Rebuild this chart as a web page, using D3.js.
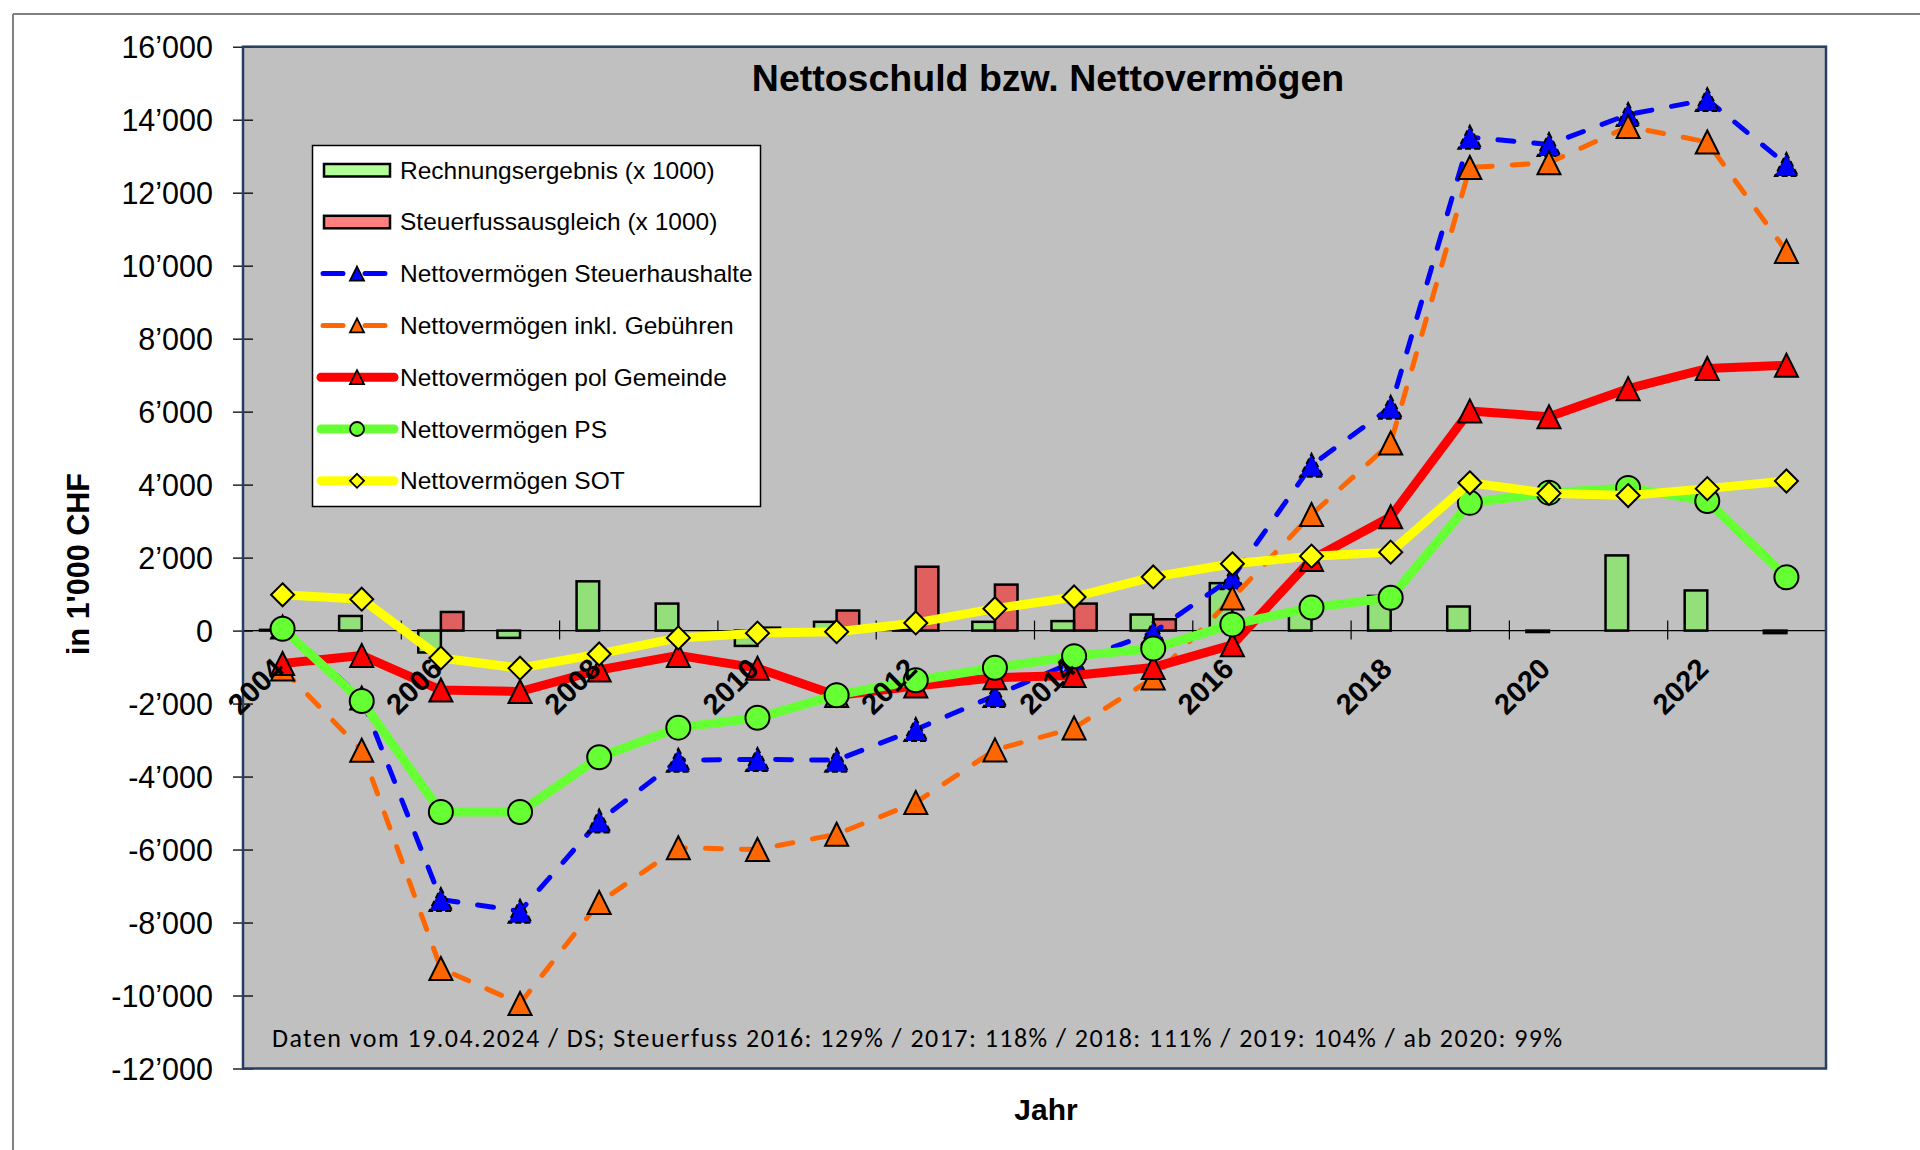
<!DOCTYPE html>
<meta charset="utf-8">
<title>Nettoschuld bzw. Nettovermögen</title>
<style>
body {
  margin: 0px;
  background: #fff;
}
text {
  font-family: "Liberation Sans", Arial, sans-serif;
  fill: #000;
}
</style>
<script src="https://d3js.org/d3.v7.min.js"></script>
<body>
<script>
// data (in 1'000 CHF)
var years = [2004, 2005, 2006, 2007, 2008, 2009, 2010, 2011, 2012, 2013,
             2014, 2015, 2016, 2017, 2018, 2019, 2020, 2021, 2022, 2023];
var rechnungsergebnis = [20, 400, -600, -200, 1350, 740, -420, 240, 20, 240,
                         260, 440, 1300, 500, 950, 660, -40, 2060, 1100, -70];
var steuerfussausgleich = [0, 0, 510, 0, 0, 0, 80, 550, 1750, 1260,
                           740, 310, 0, 0, 0, 0, 0, 0, 0, 0];
var nvSteuerhaushalte = [100, -1850, -7370, -7690, -5220, -3550, -3530, -3550, -2710, -1780,
                         -850, -50, 1450, 4530, 6120, 13520, 13320, 14140, 14550, 12770];
var nvInklGebuehren = [-1050, -3280, -9260, -10220, -7450, -5950, -6000, -5580, -4710, -3270,
                       -2670, -1300, 890, 3180, 5140, 12690, 12820, 13810, 13390, 10390];
var nvPolGemeinde = [-900, -680, -1630, -1670, -1080, -680, -1030, -1780, -1520, -1290,
                     -1230, -1010, -390, 1950, 3120, 6020, 5860, 6630, 7180, 7270];
var nvPS = [50, -1930, -4970, -4970, -3470, -2660, -2390, -1770, -1360, -1020,
            -700, -490, 170, 630, 900, 3500, 3780, 3910, 3550, 1460];
var nvSOT = [980, 860, -750, -1030, -640, -200, -70, -30, 210, 600,
             920, 1470, 1830, 2040, 2150, 4050, 3760, 3700, 3890, 4100];

var yTicks = [-12000, -10000, -8000, -6000, -4000, -2000, 0, 2000, 4000, 6000, 8000, 10000, 12000, 14000, 16000];
var xLabels = [2004, 2006, 2008, 2010, 2012, 2014, 2016, 2018, 2020, 2022];

var barKeys = ["Rechnungsergebnis (x 1000)", "Steuerfussausgleich (x 1000)"];
var lineKeys = ["Nettovermögen Steuerhaushalte", "Nettovermögen inkl. Gebühren",
                "Nettovermögen pol Gemeinde", "Nettovermögen PS", "Nettovermögen SOT"];

var footnote = "Daten vom 19.04.2024 / DS; Steuerfuss 2016: 129% / 2017: 118% / 2018: 111% / 2019: 104% / ab 2020: 99%";

// styles
var bars = [
  {name: barKeys[0], values: rechnungsergebnis, fill: "rgba(102,255,51,0.5)"},
  {name: barKeys[1], values: steuerfussausgleich, fill: "rgba(255,0,0,0.5)"}
];
var lines = [
  {name: lineKeys[0], values: nvSteuerhaushalte, color: "#0000ff", width: 5, dash: "16,20", marker: "tri", mdash: "6,3"},
  {name: lineKeys[1], values: nvInklGebuehren, color: "#ff6600", width: 5, dash: "16,20", marker: "tri"},
  {name: lineKeys[2], values: nvPolGemeinde, color: "#ff0000", width: 9, marker: "tri"},
  {name: lineKeys[3], values: nvPS, color: "#66ff33", width: 9, marker: "circle"},
  {name: lineKeys[4], values: nvSOT, color: "#ffff00", width: 9, marker: "diamond"}
];

var width = 1920, height = 1150;
// plot area box (note: "top" is reserved on window)
var pLeft = 243, pRight = 1826, pTop = 46.7, pBottom = 1068.5;

var fmt = d3.formatLocale({decimal: ".", thousands: "’", grouping: [3], currency: ["", ""], minus: "-"}).format(",");

var svg = d3.select("body").append("svg")
    .attr("width", width)
    .attr("height", height);

// chart area frame
svg.append("line")
    .attr("x1", 13).attr("y1", 14).attr("x2", width).attr("y2", 14)
    .attr("stroke", "#000").attr("stroke-width", 1.2);
svg.append("line")
    .attr("x1", 13).attr("y1", 14).attr("x2", 13).attr("y2", height)
    .attr("stroke", "#808080").attr("stroke-width", 2);

// plot area
svg.append("rect")
    .attr("x", pLeft).attr("y", pTop)
    .attr("width", pRight - pLeft).attr("height", pBottom - pTop)
    .attr("fill", "#c0c0c0");

var x = d3.scaleBand().domain(years).range([pLeft, pRight]);
var bw = x.bandwidth();
var xBar = d3.scaleBand().domain(barKeys).range([-bw * 0.2855, bw * 0.2855]);
var y = d3.scaleLinear().domain([-12000, 16000]).range([pBottom, pTop]);
var y0 = y(0);
function cx(yr) { return x(yr) + bw / 2; }

// y axis
var yAxis = svg.append("g")
    .attr("transform", "translate(" + (pLeft + 10) + ",0)")
    .call(d3.axisLeft(y).tickValues(yTicks).tickSize(20).tickPadding(20).tickFormat(fmt));
yAxis.select(".domain").remove();
yAxis.selectAll(".tick line").attr("stroke", "#000").attr("stroke-width", 1.3);
yAxis.selectAll(".tick text")
    .style("font-family", "'Liberation Sans', Arial, sans-serif")
    .style("font-size", "30.5px")
    .attr("fill", "#000")
    .attr("dy", "0.35em");

// zero line and category ticks
svg.append("line")
    .attr("x1", pLeft).attr("x2", pRight).attr("y1", y0).attr("y2", y0)
    .attr("stroke", "#000").attr("stroke-width", 1.2);
svg.selectAll("line.xtick")
    .data(xLabels.slice(1))
  .enter().append("line")
    .attr("class", "xtick")
    .attr("x1", function(d) { return x(d); })
    .attr("x2", function(d) { return x(d); })
    .attr("y1", y0 - 10).attr("y2", y0 + 9)
    .attr("stroke", "#000").attr("stroke-width", 1.2);

// bars
bars.forEach(function(b) {
  var pts = years.map(function(yr, i) { return {yr: yr, v: b.values[i]}; })
      .filter(function(d) { return d.v !== 0; });
  svg.append("g").selectAll("rect")
      .data(pts)
    .enter().append("rect")
      .attr("x", function(d) { return cx(d.yr) + xBar(b.name); })
      .attr("width", xBar.bandwidth())
      .attr("y", function(d) { return y(Math.max(0, d.v)); })
      .attr("height", function(d) { return Math.abs(y(d.v) - y0); })
      .attr("fill", b.fill)
      .attr("stroke", "#000")
      .attr("stroke-width", 2.5);
});

function markerPath(shape, s) {
  if (shape == "tri") return "M0," + (-s) + "L" + s + "," + s + "L" + (-s) + "," + s + "Z";
  if (shape == "diamond") return "M0," + (-s) + "L" + s + ",0L0," + s + "L" + (-s) + ",0Z";
  return d3.symbol(d3.symbolCircle, Math.PI * s * s)();
}

// lines with markers
var line = d3.line()
    .x(function(d) { return cx(d.yr); })
    .y(function(d) { return y(d.v); });

lines.forEach(function(s) {
  var pts = years.map(function(yr, i) { return {yr: yr, v: s.values[i]}; });
  var g = svg.append("g");
  g.append("path")
      .datum(pts)
      .attr("d", line)
      .attr("fill", "none")
      .attr("stroke", s.color)
      .attr("stroke-width", s.width)
      .attr("stroke-linejoin", "round")
      .attr("stroke-linecap", s.dash ? "round" : "butt")
      .attr("stroke-dasharray", s.dash || null);
  g.selectAll("path.mk")
      .data(pts)
    .enter().append("path")
      .attr("class", "mk")
      .attr("transform", function(d) { return "translate(" + cx(d.yr) + "," + y(d.v) + ")"; })
      .attr("d", markerPath(s.marker, s.marker == "circle" ? 12 : 11.5))
      .attr("fill", s.color)
      .attr("stroke", "#000")
      .attr("stroke-width", 2)
      .attr("stroke-dasharray", s.mdash || null);
});

// plot border
svg.append("rect")
    .attr("x", pLeft).attr("y", pTop)
    .attr("width", pRight - pLeft).attr("height", pBottom - pTop)
    .attr("fill", "none")
    .attr("stroke", "#243f60")
    .attr("stroke-width", 2.5);

// x labels, rotated
svg.selectAll("text.xlab")
    .data(xLabels)
  .enter().append("text")
    .attr("class", "xlab")
    .attr("transform", function(d) { return "translate(" + (cx(d) + 3) + "," + (y0 + 40) + ") rotate(-45)"; })
    .attr("text-anchor", "end")
    .style("font-size", "29px")
    .style("font-weight", "bold")
    .text(function(d) { return d; });

// title and axis titles
svg.append("text")
    .attr("x", 1048).attr("y", 91)
    .attr("text-anchor", "middle")
    .style("font-size", "37.5px").style("font-weight", "bold")
    .text("Nettoschuld bzw. Nettovermögen");
svg.append("text")
    .attr("x", 1046).attr("y", 1120)
    .attr("text-anchor", "middle")
    .style("font-size", "30px").style("font-weight", "bold")
    .text("Jahr");
svg.append("text")
    .attr("transform", "translate(89,564) rotate(-90)")
    .attr("text-anchor", "middle")
    .style("font-size", "30.5px").style("font-weight", "bold")
    .text("in 1'000 CHF");

// footnote
svg.append("text")
    .attr("x", 272).attr("y", 1046.5)
    .attr("textLength", 1290)
    .attr("lengthAdjust", "spacing")
    .style("font-family", "Carlito, Lato, sans-serif")
    .style("font-size", "26px")
    .text(footnote);

// legend
var legend = svg.append("g").attr("class", "legend");
legend.append("rect")
    .attr("x", 312.5).attr("y", 145.5)
    .attr("width", 448).attr("height", 361)
    .attr("fill", "#fff")
    .attr("stroke", "#000")
    .attr("stroke-width", 1.5);

var rowY = function(i) { return 170 + i * 51.8; };

bars.forEach(function(b, i) {
  legend.append("rect")
      .attr("x", 324).attr("y", rowY(i) - 6)
      .attr("width", 66).attr("height", 12.5)
      .attr("fill", b.fill)
      .attr("stroke", "#000")
      .attr("stroke-width", 2.5);
});
lines.forEach(function(s, j) {
  var i = j + 2;
  legend.append("line")
      .attr("x1", s.dash ? 323 : 321).attr("x2", s.dash ? 385 : 394)
      .attr("y1", rowY(i)).attr("y2", rowY(i))
      .attr("stroke", s.color)
      .attr("stroke-width", s.width)
      .attr("stroke-linecap", "round")
      .attr("stroke-dasharray", s.dash ? "20,22,20" : null);
  legend.append("path")
      .attr("transform", "translate(357," + rowY(i) + ")")
      .attr("d", markerPath(s.marker, 7))
      .attr("fill", s.color)
      .attr("stroke", "#000")
      .attr("stroke-width", 1.8);
});
legend.selectAll("text")
    .data(barKeys.concat(lineKeys))
  .enter().append("text")
    .attr("x", 400)
    .attr("y", function(d, i) { return rowY(i) + 8.5; })
    .style("font-size", "24.5px")
    .text(function(d) { return d; });
</script>
